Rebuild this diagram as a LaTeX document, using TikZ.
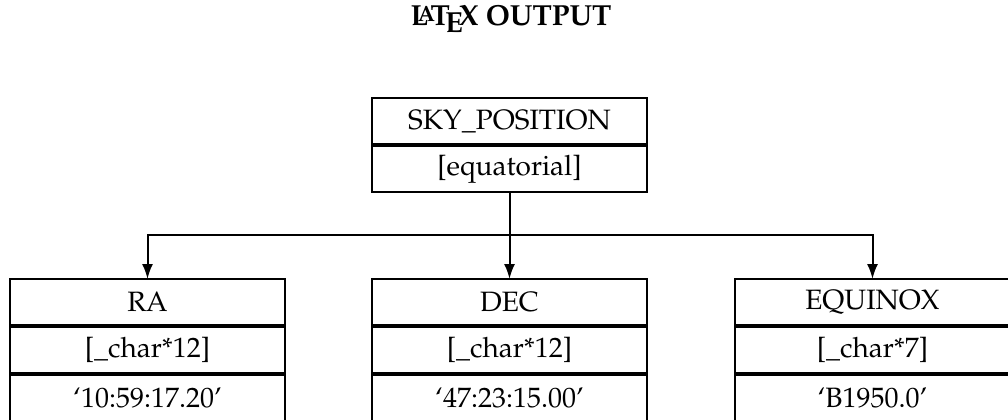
\documentclass[tikz,border=0pt]{standalone}
\usepackage[T1]{fontenc}
\usepackage{mathpazo}
\usepackage{tikz}
\usetikzlibrary{positioning,arrows.meta}
\tikzset{
    x=0.5pt,
    y=-0.5pt,
    cell/.style={draw,line width=1pt,minimum width=137.5pt,minimum height=23pt,
        inner sep=0pt,outer sep=0pt,font=\fontsize{14}{16}\selectfont},
    link/.style={line width=1pt,-{Latex[length=7.5pt,width=5.5pt]}},
}
% one field: name, type and value cells stacked
\newcommand{\field}[5] {
    \node[cell,anchor=north] (#1) at (#2,279) {#3};
    \node[cell,below=1pt of #1] (#1-type) {#4};
    \node[cell,below=1pt of #1-type] (#1-val) {#5};
}

\begin{document}
\begin{tikzpicture}
        \useasboundingbox (0,0) rectangle (1008,419);
        \node[font=\fontsize{14.5}{16}\selectfont\bfseries] (title) at (511,19) {\LaTeX\ OUTPUT};
        \node[cell,anchor=north] (sky) at (509.5,98) {SKY\_POSITION};
        \node[cell,below=1pt of sky] (sky-type) {[equatorial]};
        \field{ra}{147.5}{RA}{[\_char*12]}{`10:59:17.20'}
        \field{dec}{509.5}{DEC}{[\_char*12]}{`47:23:15.00'}
        \field{equinox}{872.5}{EQUINOX}{[\_char*7]}{`B1950.0'}
        \coordinate (fork) at (509.5,235);
        \draw[link] (sky-type) -- (dec);
        \draw[link] (fork) -| (ra);
        \draw[link] (fork) -| (equinox);
    \end{tikzpicture}
\end{document}
